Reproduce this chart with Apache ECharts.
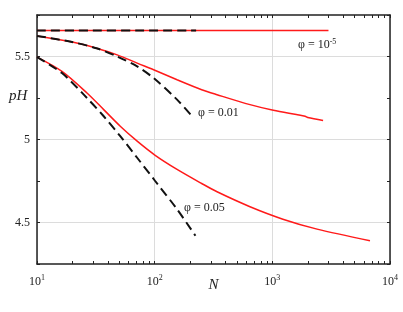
<!DOCTYPE html>
<html>
<head>
<meta charset="utf-8">
<script src="https://cdn.jsdelivr.net/npm/echarts@6/dist/echarts.min.js"></script>
<style>html,body{margin:0;padding:0;background:#fff;}#c{width:403px;height:312px;}</style>
</head>
<body>
<div id="c"></div>
<script>
// ---- data ----
const xTickValues = [10,20,30,40,50,60,70,80,90,100,200,300,400,500,600,700,800,900,1000,2000,3000,4000,5000,6000,7000,8000,9000,10000];
const xLabelValues = [10,100,1000,10000];
const yTickLabels = [4.5, 5, 5.5];

const red_phi1e5 = [[10,5.656],[3000,5.656]];
const blk_phi1e5 = [[10,5.656],[225,5.656]];

const red_phi001 = [[10,5.624],[19,5.59],[32,5.55],[48,5.51],[71,5.46],[98,5.42],[155,5.36],[251,5.30],[339,5.27],[646,5.21],[1020,5.176],[1600,5.15],[1900,5.14],[2000,5.133],[2700,5.115]];
const blk_phi001 = [[10,5.624],[19,5.59],[32,5.55],[48,5.50],[71,5.44],[98,5.37],[155,5.24],[214,5.13]];

const red_phi005 = [[10,5.496],[16.3,5.41],[26.6,5.28],[36.9,5.18],[51,5.08],[71,4.99],[101,4.905],[155,4.82],[251,4.735],[339,4.685],[646,4.595],[1230,4.52],[2400,4.46],[6760,4.39]];
const blk_phi005 = [[10,5.496],[16.3,5.40],[26.6,5.25],[36.9,5.14],[51,5.02],[71,4.89],[101,4.75],[155,4.58],[222,4.42]];

const labels = [
  {text:'φ = 10{sup|-5}', x:298, y:45},
  {text:'φ = 0.01', x:198, y:113},
  {text:'φ = 0.05', x:184, y:208}
];

// ---- chart ----
const FONT = '"Liberation Serif", "DejaVu Serif", serif';
const axisLine = {show:true, lineStyle:{color:'#222', width:1.5}};
const chart = echarts.init(document.getElementById('c'), null, {renderer:'canvas'});

const supRich = {sup:{fontSize:8, verticalAlign:'top', padding:[0,0,7,0], fontFamily:FONT, color:'#222'}};

function redSeries(d){return {type:'line', data:d, showSymbol:false, smooth:0.3, lineStyle:{color:'#ff1a1a', width:1.5}, z:2, animation:false};}
function blkSeries(d){return {type:'line', data:d, showSymbol:false, smooth:0.3, lineStyle:{color:'#111', width:2, type:[9,5]}, z:3, animation:false};}

// grid line only at each decade (every 9th custom tick)
const xSplitColors = ['#dcdcdc','rgba(0,0,0,0)','rgba(0,0,0,0)','rgba(0,0,0,0)','rgba(0,0,0,0)','rgba(0,0,0,0)','rgba(0,0,0,0)','rgba(0,0,0,0)','rgba(0,0,0,0)'];

chart.setOption({
  animation:false,
  grid:{left:37, right:13, top:15, bottom:48, containLabel:false},
  xAxis:[{
    type:'log', logBase:10, min:10, max:10000, position:'bottom',
    name:'N', nameLocation:'middle', nameGap:14, nameMoveOverlap:false,
    nameTextStyle:{fontFamily:FONT, fontStyle:'italic', fontSize:15, color:'#222'},
    axisLine:axisLine,
    axisTick:{show:true, inside:true, length:3, customValues:xTickValues, lineStyle:{color:'#222'}},
    axisLabel:{customValues:xLabelValues, margin:10, fontFamily:FONT, fontSize:12, color:'#222',
      formatter:v=>'10{sup|'+Math.round(Math.log10(v))+'}', rich:supRich},
    splitLine:{show:true, lineStyle:{color:xSplitColors, width:1}}
  },{
    type:'log', logBase:10, min:10, max:10000, position:'top',
    axisLine:axisLine,
    axisTick:{show:true, inside:true, length:3, customValues:xTickValues, lineStyle:{color:'#222'}},
    axisLabel:{show:false}, splitLine:{show:false}
  }],
  yAxis:[{
    type:'value', min:4.25, max:5.75, interval:0.25, position:'left',
    axisLine:axisLine,
    axisTick:{show:true, inside:true, length:3, lineStyle:{color:'#222'}},
    axisLabel:{margin:7, fontFamily:FONT, fontSize:12, color:'#222',
      formatter:v=> yTickLabels.some(t=>Math.abs(t-v)<1e-6) ? String(v) : ''},
    splitLine:{show:true, lineStyle:{color:['rgba(0,0,0,0)','#dcdcdc'], width:1}}
  },{
    type:'value', min:4.25, max:5.75, interval:0.25, position:'right',
    axisLine:axisLine,
    axisTick:{show:true, inside:true, length:3, lineStyle:{color:'#222'}},
    axisLabel:{show:false}, splitLine:{show:false}
  }],
  series:[
    redSeries(red_phi1e5), blkSeries(blk_phi1e5),
    redSeries(red_phi001), blkSeries(blk_phi001),
    redSeries(red_phi005), blkSeries(blk_phi005)
  ],
  graphic:[
    {type:'text', left:9, top:89, style:{text:'pH', font:'italic 15px '+FONT, fill:'#222'}}
  ].concat(labels.map(l=>({type:'text', x:l.x, y:l.y, style:{text:l.text, font:'12px '+FONT, fill:'#222', verticalAlign:'middle', rich:{sup:{fontSize:8, verticalAlign:'top', padding:[0,0,6,0], fontFamily:FONT, fill:'#222'}}}})))
});
</script>
</body>
</html>
